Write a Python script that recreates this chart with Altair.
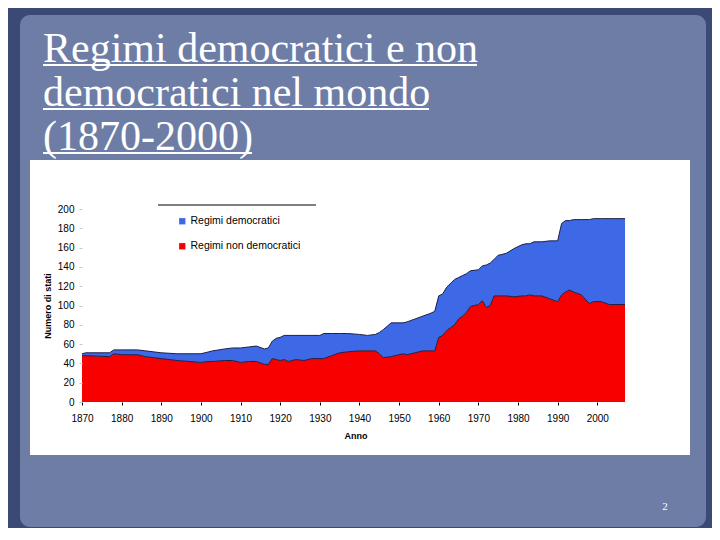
import altair as alt
import pandas as pd

# ---- data ----
years = [1870, 1871, 1877, 1878, 1880, 1884, 1886, 1888, 1890, 1894,
         1900, 1902, 1903, 1906, 1908, 1910, 1912, 1914, 1916, 1917,
         1918, 1919, 1920, 1921, 1922, 1924, 1926, 1928, 1930, 1931,
         1933, 1935, 1937, 1940, 1942, 1944, 1945, 1946, 1948, 1951,
         1952, 1954, 1956, 1958, 1959, 1960, 1961, 1962, 1964, 1965,
         1966, 1967, 1968, 1970, 1971, 1972, 1973, 1974, 1975, 1977,
         1979, 1981, 1982, 1983, 1984, 1986, 1988, 1990, 1991, 1992,
         1993, 1994, 1996, 1998, 1999, 2001, 2003, 2007]
democratic = [2, 3, 4, 4, 5, 5, 6, 6, 6, 7,
              9, 10, 11, 12, 13, 15, 15, 16, 16, 17,
              18, 22, 24, 25, 27, 25, 26, 24, 24, 26,
              23, 20, 19, 17, 16, 17, 22, 29, 35, 32,
              34, 35, 36, 39, 41, 43, 43, 45, 47, 43,
              42, 40, 37, 36, 36, 44, 44, 38, 42, 44,
              50, 53, 54, 53, 56, 56, 60, 63, 74, 74,
              72, 75, 78, 87, 86, 86, 89, 89]
non_democratic = [48, 48, 47, 50, 49, 49, 47, 46, 45, 43,
                  41, 42, 42, 43, 43, 41, 42, 42, 39, 39,
                  45, 44, 43, 44, 42, 44, 43, 45, 45, 45,
                  48, 51, 52, 53, 53, 53, 50, 46, 47, 50,
                  49, 51, 53, 53, 53, 67, 69, 74, 80, 86,
                  89, 93, 99, 101, 105, 98, 100, 110, 110, 110,
                  109, 110, 110, 111, 110, 110, 107, 104, 111, 114,
                  116, 114, 111, 102, 104, 104, 101, 101]
series_names = ["Regimi democratici", "Regimi non democratici"]
series_colors = ["#3d69e6", "#f80000"]
x_ticks = [1870, 1880, 1890, 1900, 1910, 1920, 1930, 1940, 1950, 1960, 1970, 1980, 1990, 2000]
y_ticks = [0, 20, 40, 60, 80, 100, 120, 140, 160, 180, 200]
title_lines = ["Regimi democratici e non", "democratici nel mondo", "(1870-2000)"]
slide_number = "2"

rows = []
for i, yr in enumerate(years):
    rows.append({"Anno": yr, "serie": series_names[0], "valore": democratic[i],
                 "ord": 1, "top": democratic[i] + non_democratic[i]})
    rows.append({"Anno": yr, "serie": series_names[1], "valore": non_democratic[i],
                 "ord": 0, "top": non_democratic[i]})
df = pd.DataFrame(rows)
one = pd.DataFrame({"k": [0]})

x_scale = alt.Scale(domain=[1870, 2008], nice=False, zero=False)
y_scale = alt.Scale(domain=[0, 200], nice=False)
color_scale = alt.Scale(domain=series_names, range=series_colors)

FONT = "Liberation Sans"

x_axis = alt.Axis(values=x_ticks, format="d", labelFont=FONT, labelFontSize=10,
                  labelColor="black", tickColor="black", tickSize=3, domain=False,
                  grid=False, title="Anno", titleFont=FONT, titleFontSize=9,
                  titleFontWeight="bold", titlePadding=8, labelPadding=8,
                  labelOverlap=False, labelFlush=False,
                  titleColor="black", zindex=2)
y_axis = alt.Axis(values=y_ticks, tickCount=11, labelFont=FONT, labelFontSize=10,
                  labelColor="black", tickColor="#c8c8c8", tickSize=3, domain=False,
                  grid=False, title="Numero di stati", titleFont=FONT,
                  titleFontSize=9, titleFontWeight="bold", titlePadding=5,
                  labelPadding=5, labelOverlap=False, labelFlush=False,
                  labelBound=False, titleColor="black", zindex=2)

slide_inner = alt.Chart(one).mark_rect(color="#6d7da6", cornerRadius=10).encode(
    x=alt.value(-62), x2=alt.value(624), y=alt.value(-194), y2=alt.value(318))
panel = alt.Chart(one).mark_rect(color="white").encode(
    x=alt.value(-52), x2=alt.value(608), y=alt.value(-49), y2=alt.value(246))
title = alt.Chart(one).mark_text(
    font="Liberation Serif", fontSize=42, color="white", align="left",
    baseline="alphabetic", lineHeight=44).encode(
    x=alt.value(-39), y=alt.value(-147), text=alt.value(title_lines))
ul1 = alt.Chart(one).mark_rule(color="white", strokeWidth=2).encode(
    x=alt.value(-39), x2=alt.value(395), y=alt.value(-144))
ul2 = alt.Chart(one).mark_rule(color="white", strokeWidth=2).encode(
    x=alt.value(-39), x2=alt.value(347), y=alt.value(-100))
ul3 = alt.Chart(one).mark_rule(color="white", strokeWidth=2).encode(
    x=alt.value(-39), x2=alt.value(170), y=alt.value(-56))
num = alt.Chart(one).mark_text(font="Liberation Serif", fontSize=11, color="white").encode(
    x=alt.value(583), y=alt.value(298), text=alt.value(slide_number))
legend_line = alt.Chart(one).mark_rule(color="black", strokeWidth=1).encode(
    x=alt.value(76), x2=alt.value(234), y=alt.value(-4))

areas = alt.Chart(df).mark_area(opacity=1).encode(
    x=alt.X("Anno:Q", scale=x_scale, axis=x_axis),
    y=alt.Y("valore:Q", stack="zero", scale=y_scale, axis=y_axis),
    color=alt.Color("serie:N", scale=color_scale,
                    legend=alt.Legend(orient="none", legendX=95, legendY=7, title=None,
                                      symbolType="square", symbolSize=40,
                                      symbolStrokeWidth=0, labelFont=FONT,
                                      labelFontSize=10.5, labelColor="black",
                                      rowPadding=14, labelOffset=3, zindex=2)),
    order=alt.Order("ord:Q"),
)
edges = alt.Chart(df).mark_line(color="#1c2048", strokeWidth=1).encode(
    x=alt.X("Anno:Q", scale=x_scale, axis=x_axis),
    y=alt.Y("top:Q", scale=y_scale, axis=y_axis),
    detail="serie:N",
)

chart = alt.layer(slide_inner, panel, title, ul1, ul2, ul3, num, legend_line, areas, edges).properties(
    width=547, height=193,
    autosize=alt.AutoSizeParams(type="none"),
    padding={"left": 74, "top": 201, "right": 83, "bottom": 126},
    background="#3a4a74",
).configure_view(stroke=None)

chart.save("out.html", embed_options={"renderer": "svg", "actions": False})
